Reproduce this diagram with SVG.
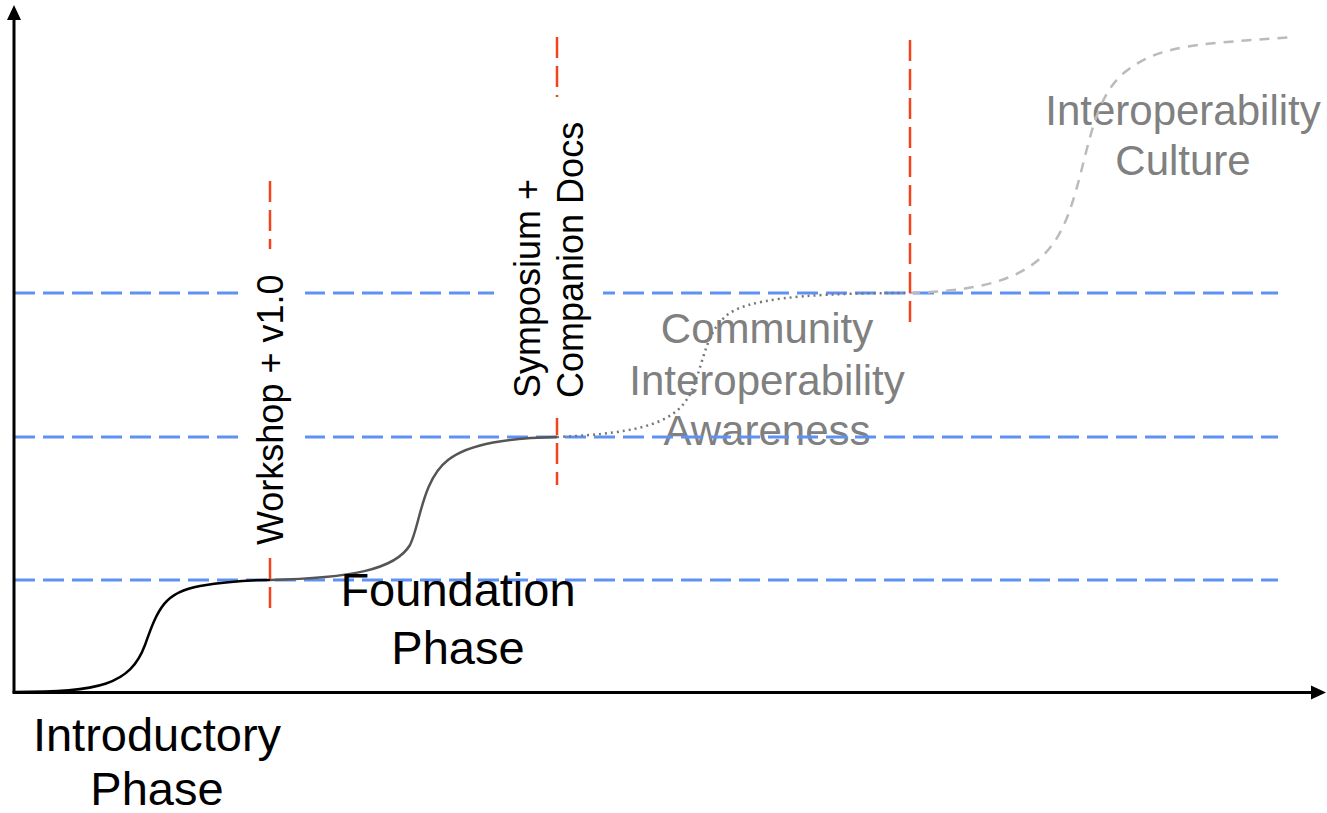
<svg xmlns="http://www.w3.org/2000/svg" width="1327" height="813" viewBox="0 0 1327 813">
<style>
.lbl{font-family:"Liberation Sans",Arial,sans-serif;}
.big{font-size:47px;fill:#000;text-anchor:middle;}
.rot{font-size:36px;fill:#000;}
.gray{font-size:42px;fill:#808080;text-anchor:middle;}
.level{stroke:#5f91f5;stroke-width:3;stroke-dasharray:21 8;fill:none;}
.mile{stroke:#f4431c;stroke-width:2.5;stroke-dasharray:21 8;fill:none;}
.axis{stroke:#000;stroke-width:3;fill:none;}
.box{fill:#fff;stroke:none;}
</style>
<rect width="1327" height="813" fill="#fff"/>
<g id="community"><text class="lbl gray" x="767" y="343">Community</text><text class="lbl gray" x="767" y="395">Interoperability</text><text class="lbl gray" x="767" y="445">Awareness</text></g>
<g id="culture"><text class="lbl gray" x="1183" y="125">Interoperability</text><text class="lbl gray" x="1183" y="175">Culture</text></g>
<g id="levels">
<line class="level" x1="14" y1="293" x2="1278" y2="293"/>
<line class="level" x1="14" y1="437" x2="1278" y2="437"/>
<line class="level" x1="14" y1="580" x2="1278" y2="580"/>
</g>
<g id="connectors">
<path id="curve-intro" d="M14,692 C100,692 130,685 145,645 C158,608 165,592 200,586 C230,581 250,580 270,580" fill="none" stroke="#000" stroke-width="2.5"/>
<path id="curve-foundation" d="M270,580 C350,578 395,570 410,545 C420,525 422,480 448,460 C470,443 510,438 557,437" fill="none" stroke="#555" stroke-width="2.5"/>
<path id="curve-community" d="M557,437 C645,433 678,422 692,390 C705,360 706,325 735,310 C765,296 830,293 910,293" fill="none" stroke="#777" stroke-width="2.5" stroke-dasharray="2 4"/>
<path id="curve-culture" d="M910,293 C1010,290 1048,268 1068,215 S1090,100 1125,72 S1200,44 1295,37" fill="none" stroke="#bbb" stroke-width="2.5" stroke-dasharray="10 8"/>
</g>
<g id="milestones">
<line class="mile" x1="270" y1="181" x2="270" y2="613"/>
<line class="mile" x1="557" y1="37" x2="557" y2="485"/>
<line class="mile" x1="910" y1="40" x2="910" y2="325"/>
</g>
<g id="workshop"><rect class="box" x="241" y="249" width="64" height="304"/><text class="lbl rot" transform="translate(283,545) rotate(-90)">Workshop + v1.0</text></g>
<g id="symposium"><rect class="box" x="494" y="97" width="109" height="321"/><text class="lbl rot" transform="translate(540,398) rotate(-90)">Symposium +</text><text class="lbl rot" transform="translate(583,398) rotate(-90)">Companion Docs</text></g>
<g id="foundation"><text class="lbl big" x="458" y="606">Foundation</text><text class="lbl big" x="458" y="664">Phase</text></g>
<g id="introductory"><text class="lbl big" x="157" y="751">Introductory</text><text class="lbl big" x="157" y="805">Phase</text></g>
<g id="axes">
<line class="axis" x1="14" y1="692.5" x2="14" y2="18"/>
<polygon points="14,5 7,20 21,20" fill="#000"/>
<line class="axis" x1="12.5" y1="692.5" x2="1312" y2="692.5"/>
<polygon points="1326,692.5 1311,685.5 1311,699.5" fill="#000"/>
</g>
</svg>
